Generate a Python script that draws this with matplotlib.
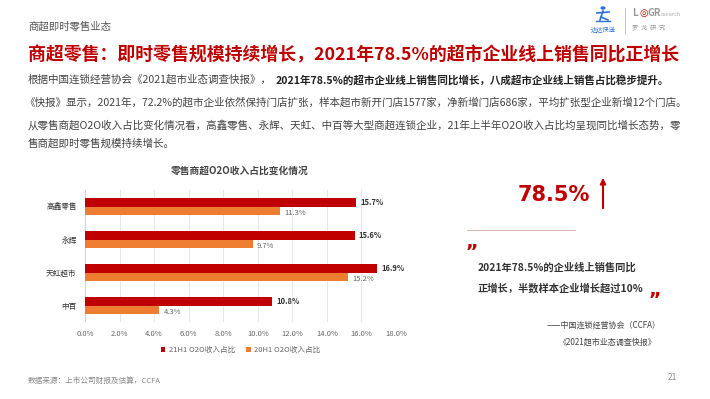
import matplotlib
matplotlib.use('Agg')
import numpy as np
import matplotlib.pyplot as plt
from matplotlib.lines import Line2D
from matplotlib.patches import FancyArrowPatch, Circle

plt.rcParams['font.family'] = ['Noto Sans CJK SC', 'DejaVu Sans']

categories = ['高鑫零售', '永辉', '天虹超市', '中百']
share_21h1 = [15.7, 15.6, 16.9, 10.8]
share_20h1 = [11.3, 9.7, 15.2, 4.3]
xticks = [0, 2, 4, 6, 8, 10, 12, 14, 16, 18]
legend_labels = ['21H1 O2O收入占比', '20H1 O2O收入占比']

RED = '#C00000'
ORANGE = '#ED7D31'
W, H = 710, 399

fig = plt.figure(figsize=(7.1, 3.99), dpi=100)

def px(x, y):
    return x / W, 1 - y / H

def text(x, y, s, **kw):
    fx, fy = px(x, y)
    fig.text(fx, fy, s, **kw)

def seg(x0, y0, x1, y1, **kw):
    fig.add_artist(Line2D([x0 / W, x1 / W], [1 - y0 / H, 1 - y1 / H], **kw))

# header
text(28, 27, '商超即时零售业态', fontsize=7.5, color='#555555', va='center')
text(28, 55, '商超零售：即时零售规模持续增长，2021年78.5%的超市企业线上销售同比正增长',
     fontsize=12.9, color=RED, fontweight='bold', va='center')

# logos (rough shapes + text)
blue = '#2a6fd6'
fig.add_artist(Circle(px(603, 8), 1.8 / W, color=blue, transform=fig.transFigure))
seg(597, 13, 609, 12, color=blue, lw=1.2)
seg(603, 11, 600, 20, color=blue, lw=1.2)
seg(601, 17, 608, 20, color=blue, lw=1.2)
seg(596, 21, 610, 21, color=blue, lw=1.0)
text(603, 30, '达达快送', fontsize=4.5, color=blue, va='center', ha='center')
seg(625, 8, 625, 34, color='#bbbbbb', lw=0.6)
text(632, 13, 'L', fontsize=7, color='#999999', va='center', fontweight='bold')
text(639, 13, '◎', fontsize=7, color=RED, va='center', family=['DejaVu Sans'])
text(648, 13, 'GR', fontsize=7, color='#999999', va='center', fontweight='bold')
text(661, 14, 'esearch', fontsize=4, color='#aaaaaa', va='center')
text(632, 28, '罗  戈  研  究', fontsize=4.5, color='#999999', va='center')

# body text
body = '#444444'
bfs = 7.6
text(28, 80, '根据中国连锁经营协会《2021超市业态调查快报》，', fontsize=bfs, color=body, va='center')
text(276, 80, '2021年78.5%的超市企业线上销售同比增长，八成超市企业线上销售占比稳步提升。',
     fontsize=bfs, color='#222222', fontweight='bold', va='center')
text(24, 102, '《快报》显示，2021年，72.2%的超市企业依然保持门店扩张，样本超市新开门店1577家，净新增门店686家，平均扩张型企业新增12个门店。',
     fontsize=bfs, color=body, va='center')
text(28, 125, '从零售商超O2O收入占比变化情况看，高鑫零售、永辉、天虹、中百等大型商超连锁企业，21年上半年O2O收入占比均呈现同比增长态势，零',
     fontsize=bfs, color=body, va='center')
text(28, 143, '售商超即时零售规模持续增长。', fontsize=bfs, color=body, va='center')

# chart
ax = fig.add_axes([85 / W, 1 - 322 / H, 311 / W, 132 / H])
y = np.arange(len(categories))
bh = 0.27
ax.barh(y - bh / 2, share_21h1, height=bh, color=RED, label=legend_labels[0], zorder=3)
ax.barh(y + bh / 2, share_20h1, height=bh, color=ORANGE, label=legend_labels[1], zorder=3)
for yi, v in zip(y, share_21h1):
    ax.text(v + 0.25, yi - bh / 2, f'{v}%', fontsize=5.5, color='#333333', fontweight='bold', va='center')
for yi, v in zip(y, share_20h1):
    ax.text(v + 0.25, yi + bh / 2 + 0.05, f'{v}%', fontsize=5.5, color='#666666', va='center')
ax.set_ylim(3.5, -0.5)
ax.set_xlim(0, 18)
ax.set_xticks(xticks)
ax.set_xticklabels([f'{t:.1f}%' for t in xticks], fontsize=5.5, color='#666666')
ax.set_yticks(y)
ax.set_yticklabels(categories, fontsize=5.5, color='#333333')
ax.tick_params(length=0, pad=6)
ax.grid(axis='x', color='#e3e3e3', lw=0.6, zorder=0)
for s in ax.spines.values():
    s.set_visible(False)
ax.axvline(0, color='#d0d0d0', lw=0.6, zorder=2)
ax.legend(loc='upper center', bbox_to_anchor=(0.5, -0.13), ncol=2, frameon=False,
          fontsize=5.5, handlelength=0.6, handleheight=0.6, columnspacing=1.5,
          handletextpad=0.4, labelcolor='#666666')
text(240, 171, '零售商超O2O收入占比变化情况', fontsize=7, color='#444444', fontweight='bold',
     ha='center', va='center')

# right panel
text(518, 195, '78.5%', fontsize=15, color=RED, fontweight='bold', va='center', family=['DejaVu Sans'])
fig.add_artist(FancyArrowPatch(px(603, 211), px(603, 175), arrowstyle='-|>',
               mutation_scale=8, color=RED, lw=1.5, transform=fig.transFigure))
seg(467, 230, 575, 230, color='#d8a8a8', lw=0.6)
text(466, 243, '\u201e', fontsize=14, color=RED, va='center', fontweight='bold', family=['DejaVu Sans'])
text(478, 268, '2021年78.5%的企业线上销售同比', fontsize=7.4, color='#333333', fontweight='bold', va='center')
text(478, 288, '正增长，半数样本企业增长超过10%', fontsize=7.4, color='#333333', fontweight='bold', va='center')
text(649, 290, '\u201e', fontsize=14, color=RED, va='center', fontweight='bold', family=['DejaVu Sans'])
text(661, 325, '——中国连锁经营协会（CCFA）', fontsize=5.8, color='#444444', ha='right', va='center')
text(656, 342, '《2021超市业态调查快报》', fontsize=5.8, color='#444444', ha='right', va='center')

# footer
text(28, 381, '数据来源：上市公司财报及估算，CCFA', fontsize=5.5, color='#888888', va='center')
text(668, 378, '21', fontsize=6, color='#888888', va='center')

fig.savefig('out.png', dpi=100, facecolor='white')
